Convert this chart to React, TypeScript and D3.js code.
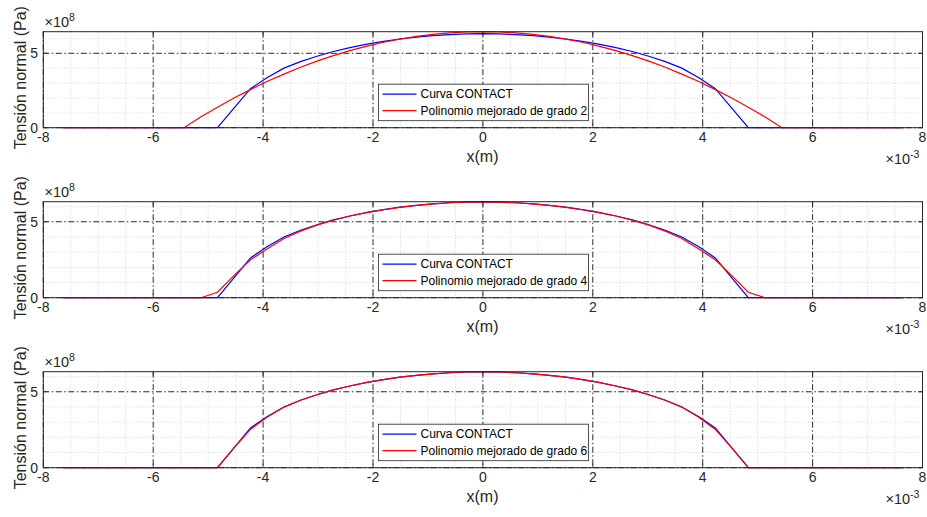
import React from "react";
import * as d3 from "d3";

// x positions (×1e-3 m)
const xVals = [-7.65, -5.44, -5.13, -4.83, -4.53, -4.23, -3.93, -3.62, -3.32, -3.02, -2.72, -2.42, -2.11, -1.81, -1.51, -1.21, -0.91, -0.60, -0.30, 0,
  0.30, 0.60, 0.91, 1.21, 1.51, 1.81, 2.11, 2.42, 2.72, 3.02, 3.32, 3.62, 3.93, 4.23, 4.53, 4.83, 5.13, 5.44, 7.65];

// Curva CONTACT (×1e8 Pa)
const contact = [0, 0, 0, 0, 1.31, 2.62, 3.35, 4.0, 4.44, 4.8, 5.12, 5.38, 5.62, 5.8, 5.96, 6.08, 6.18, 6.25, 6.3, 6.32,
  6.3, 6.25, 6.18, 6.08, 5.96, 5.8, 5.62, 5.38, 5.12, 4.8, 4.44, 4.0, 3.35, 2.62, 1.31, 0, 0, 0, 0];

// Polinomio mejorado de grado 2
const poly2 = [0, 0, 0.74, 1.38, 1.99, 2.56, 3.1, 3.6, 4.06, 4.47, 4.84, 5.18, 5.48, 5.74, 5.95, 6.13, 6.27, 6.37, 6.43, 6.45,
  6.43, 6.37, 6.27, 6.13, 5.95, 5.74, 5.48, 5.18, 4.84, 4.47, 4.06, 3.6, 3.1, 2.56, 1.99, 1.38, 0.74, 0, 0];

// Polinomio mejorado de grado 4
const poly4 = [0, 0, 0, 0.36, 1.45, 2.5, 3.2, 3.9, 4.38, 4.78, 5.1, 5.38, 5.6, 5.79, 5.95, 6.08, 6.18, 6.25, 6.29, 6.31,
  6.29, 6.25, 6.18, 6.08, 5.95, 5.79, 5.6, 5.38, 5.1, 4.78, 4.38, 3.9, 3.2, 2.5, 1.45, 0.36, 0, 0, 0];

// Polinomio mejorado de grado 6
const poly6 = [0, 0, 0, 0, 1.3, 2.52, 3.32, 3.99, 4.44, 4.8, 5.12, 5.38, 5.62, 5.8, 5.96, 6.08, 6.18, 6.25, 6.3, 6.32,
  6.3, 6.25, 6.18, 6.08, 5.96, 5.8, 5.62, 5.38, 5.12, 4.8, 4.44, 3.99, 3.32, 2.52, 1.3, 0, 0, 0, 0];

const degrees = ["2", "4", "6"];
const xTicks = [-8, -6, -4, -2, 0, 2, 4, 6, 8];
const yTicks = [0, 5];
const xMinor = [-7.5, -7, -6.5, -5.5, -5, -4.5, -3.5, -3, -2.5, -1.5, -1, -0.5, 0.5, 1, 1.5, 2.5, 3, 3.5, 4.5, 5, 5.5, 6.5, 7, 7.5];
const yMinor = [1, 2, 3, 4, 6];

const W = 927;
const H = 517;
const left = 43.3;
const right = 922.5;
const panelTops = [31.7, 201.7, 371.7];
const panelH = 96;
const FONT = "'Liberation Sans', Arial, Helvetica, sans-serif";
const AX = "#262626";

function Panel({ top, red, degree }: { top: number; red: number[]; degree: string }) {
  const bottom = top + panelH;
  const x = d3.scaleLinear().domain([-8, 8]).range([left, right]);
  const ymax = Math.max(d3.max(contact) ?? 0, d3.max(red) ?? 0);
  const y = d3.scaleLinear().domain([0, ymax]).range([bottom, top]);
  const line = d3
    .line<number>()
    .x((_, i) => x(xVals[i]))
    .y((d) => y(d));
  const dashDot = "6,2.5,1.5,2.5";
  const legX = 378.5;
  const legY = top + 52.5;
  return (
    <g>
      {/* minor grid */}
      {xMinor.map((v) => (
        <line key={"xm" + v} x1={x(v)} x2={x(v)} y1={top} y2={bottom} stroke="#b8b8b8" strokeWidth={0.6} strokeDasharray="1,2" />
      ))}
      {yMinor.filter((v) => v < ymax).map((v) => (
        <line key={"ym" + v} x1={left} x2={right} y1={y(v)} y2={y(v)} stroke="#b8b8b8" strokeWidth={0.6} strokeDasharray="1,2" />
      ))}
      {/* major grid */}
      {xTicks.map((v) => (
        <line key={"xg" + v} x1={x(v)} x2={x(v)} y1={top} y2={bottom} stroke="#111" strokeWidth={0.9} strokeDasharray={dashDot} />
      ))}
      {yTicks.map((v) => (
        <line key={"yg" + v} x1={left} x2={right} y1={y(v)} y2={y(v)} stroke="#111" strokeWidth={0.9} strokeDasharray={dashDot} />
      ))}
      {/* data */}
      <path d={line(contact) ?? ""} fill="none" stroke="#0000ff" strokeWidth={1.2} />
      <path d={line(red) ?? ""} fill="none" stroke="#ff0000" strokeWidth={1.2} />
      {/* box */}
      <rect x={left} y={top} width={right - left} height={panelH} fill="none" stroke={AX} strokeWidth={1} />
      {/* ticks */}
      {xTicks.map((v) => (
        <g key={"xt" + v}>
          <line x1={x(v)} x2={x(v)} y1={bottom} y2={bottom - 4} stroke={AX} strokeWidth={0.8} />
          <line x1={x(v)} x2={x(v)} y1={top} y2={top + 4} stroke={AX} strokeWidth={0.8} />
          <text x={x(v)} y={bottom + 14.5} textAnchor="middle" fontSize={14} fill={AX} fontFamily={FONT}>
            {String(v)}
          </text>
        </g>
      ))}
      {yTicks.map((v) => (
        <g key={"yt" + v}>
          <line x1={left} x2={left + 4} y1={y(v)} y2={y(v)} stroke={AX} strokeWidth={0.8} />
          <line x1={right} x2={right - 4} y1={y(v)} y2={y(v)} stroke={AX} strokeWidth={0.8} />
          <text x={38} y={y(v) + 5} textAnchor="end" fontSize={14} fill={AX} fontFamily={FONT}>
            {String(v)}
          </text>
        </g>
      ))}
      {/* exponent labels */}
      <text x={44.5} y={top - 4.5} fontSize={14.5} fill={AX} fontFamily={FONT}>
        ×10<tspan fontSize={10.5} dy={-6.5}>8</tspan>
      </text>
      <text x={885.5} y={bottom + 36.5} fontSize={14.5} fill={AX} fontFamily={FONT}>
        ×10<tspan fontSize={10.5} dy={-6.5}>-3</tspan>
      </text>
      {/* axis labels */}
      <text x={482.5} y={bottom + 34} textAnchor="middle" fontSize={16} fill={AX} fontFamily={FONT}>
        x(m)
      </text>
      <text
        transform={`translate(25.5,${top + panelH / 2 - 2}) rotate(-90)`}
        textAnchor="middle"
        fontSize={16}
        fill={AX}
        fontFamily={FONT}
      >
        Tensión normal (Pa)
      </text>
      {/* legend */}
      <rect x={legX} y={legY} width={210} height={36.5} fill="#fff" stroke={AX} strokeWidth={0.8} />
      <line x1={legX + 4} x2={legX + 38} y1={legY + 10} y2={legY + 10} stroke="#0000ff" strokeWidth={1.2} />
      <text x={legX + 42} y={legY + 14} fontSize={12} fill="#000" fontFamily={FONT}>
        Curva CONTACT
      </text>
      <line x1={legX + 4} x2={legX + 38} y1={legY + 26.5} y2={legY + 26.5} stroke="#ff0000" strokeWidth={1.2} />
      <text x={legX + 42} y={legY + 30.5} fontSize={12} fill="#000" fontFamily={FONT}>
        {"Polinomio mejorado de grado " + degree}
      </text>
    </g>
  );
}

export default function App() {
  const reds = [poly2, poly4, poly6];
  return (
    <svg
      width={W}
      height={H}
      viewBox={`0 0 ${W} ${H}`}
      style={{ position: "absolute", left: 0, top: 0, background: "#fff" }}
    >
      <rect x={0} y={0} width={W} height={H} fill="#fff" />
      {panelTops.map((t, i) => (
        <Panel key={i} top={t} red={reds[i]} degree={degrees[i]} />
      ))}
    </svg>
  );
}
